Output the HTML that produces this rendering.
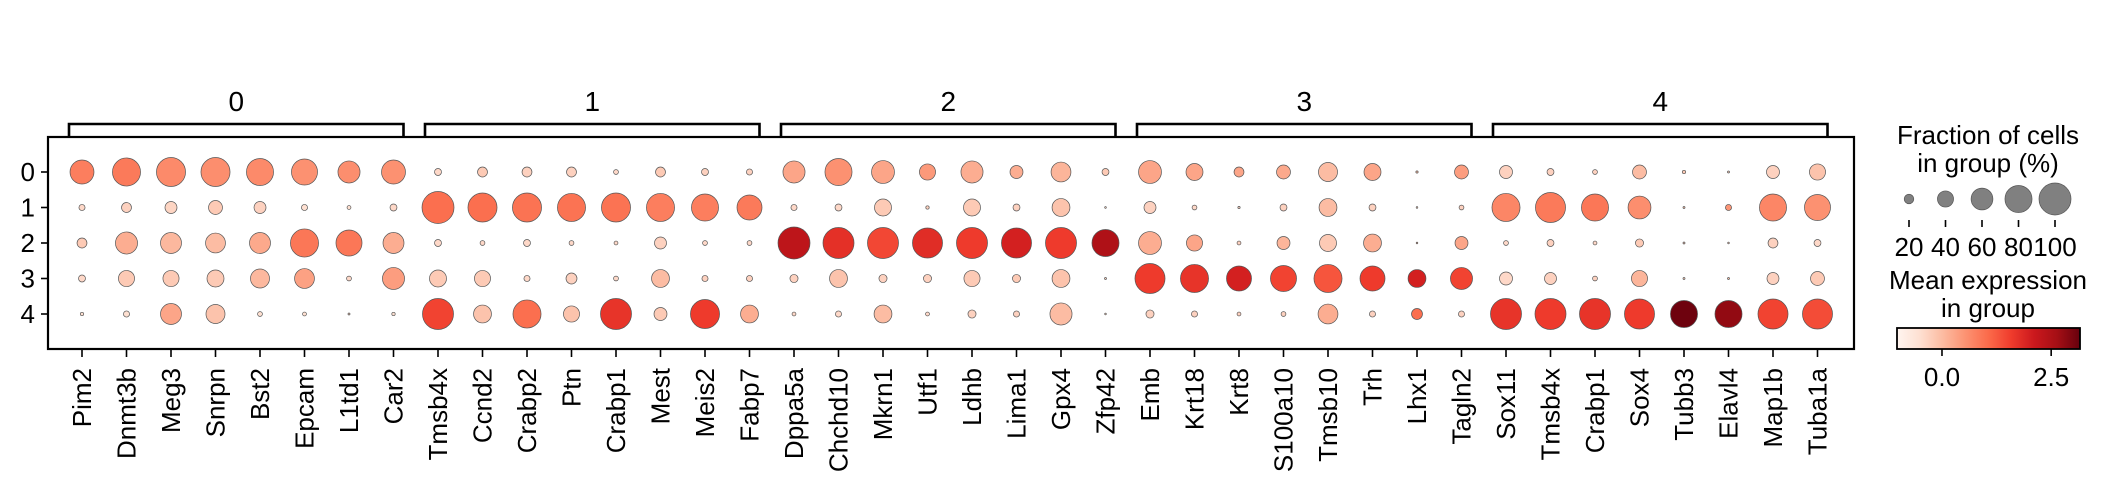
<!DOCTYPE html>
<html><head><meta charset="utf-8"><style>
html,body{margin:0;padding:0;background:#fff}
svg{display:block;font-family:"Liberation Sans",Arial,sans-serif}
</style></head><body>
<svg id="chart" width="2103" height="485" viewBox="0 0 2103 485" xmlns="http://www.w3.org/2000/svg">
<defs>
<linearGradient id="reds" x1="0" x2="1" y1="0" y2="0">
<stop offset="0" stop-color="#fff5f0"/><stop offset="0.125" stop-color="#fee0d2"/><stop offset="0.25" stop-color="#fcbba1"/><stop offset="0.375" stop-color="#fc9272"/><stop offset="0.5" stop-color="#fb6a4a"/><stop offset="0.625" stop-color="#ef3b2c"/><stop offset="0.75" stop-color="#cb181d"/><stop offset="0.875" stop-color="#a50f15"/><stop offset="1" stop-color="#67000d"/>
</linearGradient>
</defs>
<g id="marks"></g>
<g id="axes"></g>
<g id="legend"></g>
</svg>
<script>
const genes = ["Pim2","Dnmt3b","Meg3","Snrpn","Bst2","Epcam","L1td1","Car2","Tmsb4x","Ccnd2","Crabp2","Ptn","Crabp1","Mest","Meis2","Fabp7","Dppa5a","Chchd10","Mkrn1","Utf1","Ldhb","Lima1","Gpx4","Zfp42","Emb","Krt18","Krt8","S100a10","Tmsb10","Trh","Lhx1","Tagln2","Sox11","Tmsb4x","Crabp1","Sox4","Tubb3","Elavl4","Map1b","Tuba1a"];
const groups = ["0","1","2","3","4"];
const groupSizes = [8,8,8,8,8];
const frac0 = [68,84,88,88,80,76,61,68, 13,21,21,21,8,21,13,11, 61,80,64,40,61,30,53,13, 64,43,21,33,50,43,3,33, 30,13,8,33,5,2.5,30,40];
const frac1 = [11,21,27,33,27,11,6,13, 100,88,88,84,88,84,80,72, 11,13,43,5,43,13,46,2, 27,8,3,13,46,13,2,8, 84,92,80,64,2.5,11,80,76];
const frac2 = [21,61,57,53,57,84,76,57, 13,8,13,8,6,27,8,8, 100,96,96,92,96,92,96,80, 64,40,6,30,43,46,2,30, 8,13,6,16,2.5,2,21,13];
const frac3 = [13,40,40,43,50,53,8,61, 43,40,11,24,8,46,11,11, 16,46,16,16,40,16,46,2.5, 92,84,72,76,84,72,46,61, 30,27,8,40,2.5,2.5,27,33];
const frac4 = [5,11,57,50,8,6,2.5,5, 96,46,84,40,96,30,88,46, 6,11,46,6,16,11,61,2, 16,11,6,8,53,11,24,11, 96,96,96,92,80,80,92,92];
const expr0 = [0.8,0.85,0.65,0.6,0.65,0.55,0.6,0.55, -0.4,-0.2,-0.3,-0.3,-0.4,-0.2,-0.3,-0.3, 0.3,0.55,0.3,0.45,0.2,0.2,0.1,-0.2, 0.3,0.3,0.3,0.25,0,0.3,0,0.4, -0.3,-0.3,-0.3,0,-0.2,-0.2,-0.3,-0.1];
const expr1 = [-0.4,-0.3,-0.35,-0.2,-0.3,-0.5,-0.5,-0.4, 1.0,1.0,0.95,0.95,0.95,0.8,0.8,0.85, -0.4,-0.4,-0.2,-0.3,-0.2,-0.3,-0.1,-0.3, -0.3,-0.4,-0.3,-0.3,0,-0.3,-0.3,-0.3, 0.7,0.85,0.9,0.6,0,0.5,0.7,0.55];
const expr2 = [-0.2,0.2,0.05,0,0.25,0.9,0.9,0.2, -0.4,-0.4,-0.4,-0.4,-0.4,-0.3,-0.4,-0.4, 2.3,1.75,1.45,1.8,1.6,2.0,1.6,2.5, 0.2,0.3,-0.3,0.1,-0.2,0.2,0,0.3, -0.4,-0.3,-0.4,-0.2,-0.2,-0.2,-0.3,-0.4];
const expr3 = [-0.4,-0.2,-0.2,-0.2,0.05,0.35,-0.4,0.4, -0.2,-0.2,-0.4,-0.3,-0.4,0,-0.3,-0.3, -0.3,-0.1,-0.3,-0.3,-0.2,-0.2,-0.1,-0.3, 1.6,1.7,2.0,1.5,1.3,1.6,2.0,1.5, -0.4,-0.3,-0.3,0.1,-0.2,0,-0.3,-0.2];
const expr4 = [-0.5,-0.5,0.3,-0.1,-0.5,-0.5,-0.3,-0.5, 1.5,-0.1,1.0,-0.1,1.7,-0.2,1.6,0.2, -0.4,-0.4,0,-0.4,-0.3,-0.3,0,-0.3, -0.3,-0.3,-0.3,-0.3,0.2,-0.3,1.0,-0.3, 1.7,1.6,1.7,1.6,3.1,2.8,1.5,1.4];
const sizeLegendValues = [20,40,60,80,100];
const colorTicks = [0.0, 2.5];
const colorRange = [-1.03, 3.16];

const fracRows = [frac0,frac1,frac2,frac3,frac4];
const exprRows = [expr0,expr1,expr2,expr3,expr4];
const NS = "http://www.w3.org/2000/svg";
const X0 = 82, DX = 44.5, Y0 = 172, DY = 35.5;
const FS = 26;
const xScale = i => X0 + i*DX;
const yScale = r => Y0 + r*DY;
const rScale = f => 16*Math.pow(Math.max(f,0)/100, 0.75);
const stops = ["#fff5f0","#fee0d2","#fcbba1","#fc9272","#fb6a4a","#ef3b2c","#cb181d","#a50f15","#67000d"];
function hex(c){return [parseInt(c.substr(1,2),16),parseInt(c.substr(3,2),16),parseInt(c.substr(5,2),16)];}
function color(v){
  let t=(v-colorRange[0])/(colorRange[1]-colorRange[0]); t=Math.max(0,Math.min(1,t));
  const p=t*8, i=Math.min(7,Math.floor(p)), f=p-i;
  const a=hex(stops[i]), b=hex(stops[i+1]);
  return "rgb("+a.map((x,k)=>Math.round(x+(b[k]-x)*f)).join(",")+")";
}
function mk(tag, attrs, parent, text){
  const e=document.createElementNS(NS,tag);
  for(const k in attrs) e.setAttribute(k, attrs[k]);
  if(text!==undefined) e.textContent=text;
  parent.appendChild(e); return e;
}
const marks=document.getElementById("marks"), axes=document.getElementById("axes"), legend=document.getElementById("legend");

fracRows.forEach((row, r) => {
  row.forEach((f, i) => {
    const c = mk("circle", {cx:xScale(i), cy:yScale(r), r:rScale(f), fill:color(exprRows[r][i]), stroke:"#555", "stroke-width":0.7}, marks);
    
    
  });
});

const frame = mk("rect", {x:48, y:137, width:1806, height:212, fill:"none", stroke:"#000", "stroke-width":2.2}, axes);



groups.forEach((g, r) => {
  const y = yScale(r);
  mk("line", {x1:41, x2:48, y1:y, y2:y, stroke:"#000", "stroke-width":1.6}, axes);
  const t = mk("text", {x:35, y:y+9, "text-anchor":"end", "font-size":FS, fill:"#000"}, axes, g);
  
  
});

genes.forEach((gname, i) => {
  const x = xScale(i);
  mk("line", {x1:x, x2:x, y1:349, y2:357, stroke:"#000", "stroke-width":1.6}, axes);
  const t = mk("text", {x:0, y:0, transform:"translate("+(x+9)+",368) rotate(-90)", "text-anchor":"end", "font-size":FS, fill:"#000"}, axes, gname);
  
  
});

let start = 0;
groupSizes.forEach((n, g) => {
  const x1 = xScale(start) - 13, x2 = xScale(start+n-1) + 10;
  const p = mk("path", {d:"M"+x1+",137 L"+x1+",124 L"+x2+",124 L"+x2+",137", fill:"none", stroke:"#000", "stroke-width":2.6}, axes);
  
  
  const t = mk("text", {x:(x1+x2)/2, y:111, "text-anchor":"middle", "font-size":28, fill:"#000"}, axes, groups[g]);
  
  
  start += n;
});

const lt1 = mk("text", {x:1988, y:144, "text-anchor":"middle", "font-size":FS, fill:"#000"}, legend, "Fraction of cells");


mk("text", {x:1988, y:172, "text-anchor":"middle", "font-size":FS, fill:"#000"}, legend, "in group (%)");
sizeLegendValues.forEach((v, k) => {
  const x = 1909 + k*36.5;
  const c = mk("circle", {cx:x, cy:199, r:rScale(v), fill:"#808080", stroke:"#555", "stroke-width":0.7}, legend);
  
  
  mk("line", {x1:x, x2:x, y1:220, y2:227, stroke:"#000", "stroke-width":1.6}, legend);
  const t = mk("text", {x:x, y:256, "text-anchor":"middle", "font-size":FS, fill:"#000"}, legend, String(v));
  
  
});

const ct = mk("text", {x:1988, y:289, "text-anchor":"middle", "font-size":FS, fill:"#000"}, legend, "Mean expression");


mk("text", {x:1988, y:317, "text-anchor":"middle", "font-size":FS, fill:"#000"}, legend, "in group");
const cb = mk("rect", {x:1897, y:328, width:183, height:21, fill:"url(#reds)", stroke:"#000", "stroke-width":1.8}, legend);


colorTicks.forEach(v => {
  const x = 1897 + (v-colorRange[0])/(colorRange[1]-colorRange[0])*183;
  mk("line", {x1:x, x2:x, y1:349, y2:356, stroke:"#000", "stroke-width":1.6}, legend);
  const t = mk("text", {x:x, y:386, "text-anchor":"middle", "font-size":FS, fill:"#000"}, legend, v.toFixed(1));
  
  
});
</script>
</body></html>
